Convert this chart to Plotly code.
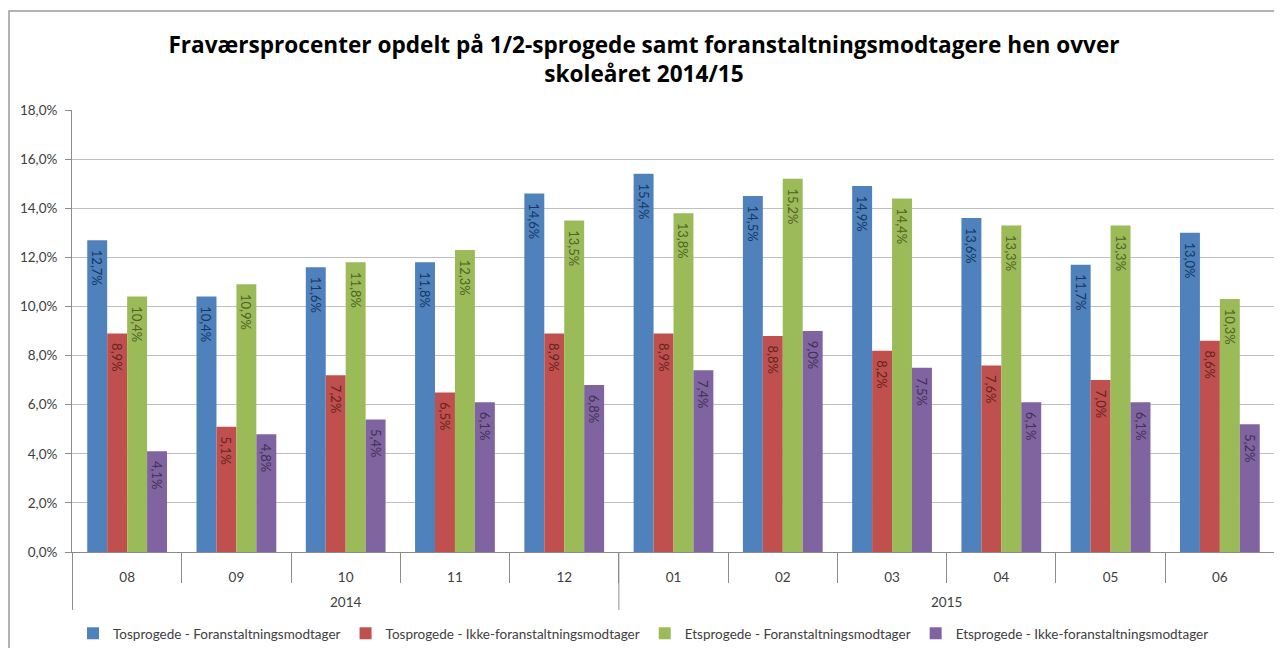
import plotly.graph_objects as go

years = ["2014"] * 5 + ["2015"] * 6
months = ["08", "09", "10", "11", "12", "01", "02", "03", "04", "05", "06"]

series_names = [
    "Tosprogede - Foranstaltningsmodtager",
    "Tosprogede - Ikke-foranstaltningsmodtager",
    "Etsprogede - Foranstaltningsmodtager",
    "Etsprogede - Ikke-foranstaltningsmodtager",
]
tos_foran = [12.7, 10.4, 11.6, 11.8, 14.6, 15.4, 14.5, 14.9, 13.6, 11.7, 13.0]
tos_ikke = [8.9, 5.1, 7.2, 6.5, 8.9, 8.9, 8.8, 8.2, 7.6, 7.0, 8.6]
ets_foran = [10.4, 10.9, 11.8, 12.3, 13.5, 13.8, 15.2, 14.4, 13.3, 13.3, 10.3]
ets_ikke = [4.1, 4.8, 5.4, 6.1, 6.8, 7.4, 9.0, 7.5, 6.1, 6.1, 5.2]

bar_colors = ["#4F81BD", "#C0504D", "#9BBB59", "#8064A2"]
text_colors = ["#17375E", "#632523", "#4F6228", "#3F3151"]

title_text = ("Fraværsprocenter opdelt på 1/2-sprogede samt foranstaltningsmodtagere hen ovver"
              "<br>skoleåret 2014/15")

# page body has an 8px margin; work in screen pixels and convert
OFF = 8
W, H = 1282 - OFF, 648 - OFF
L, R, T, B = 72, 1275, 110, 552   # plot area in screen pixels
pw = R - L
ph = B - T


def py(yscreen):
    return (B - yscreen) / ph


def px(xscreen):
    return (xscreen - L) / pw


fig = go.Figure()
for name, vals, c, tc in zip(series_names, [tos_foran, tos_ikke, ets_foran, ets_ikke],
                             bar_colors, text_colors):
    fig.add_trace(go.Bar(
        x=months,
        y=[v / 100 for v in vals],
        name=name,
        marker=dict(color=c, line=dict(width=0)),
        texttemplate="\u00a0\u00a0%{y:.1%}",
        textposition="inside",
        insidetextanchor="end",
        textangle=90,
        constraintext="none",
        insidetextfont=dict(color=tc, size=13, family="Lato"),
        hoverinfo="skip",
    ))

# outer chart border
fig.add_shape(type="rect", xref="paper", yref="paper",
              x0=px(9), x1=px(1295), y0=py(665), y1=py(11),
              line=dict(color="#9A9A9A", width=1.5), fillcolor="rgba(0,0,0,0)", layer="below")

# year group labels and dividers
groups = []
for i, yv in enumerate(years):
    if not groups or groups[-1][0] != yv:
        groups.append([yv, i, i])
    else:
        groups[-1][2] = i
for yv, i0, i1 in groups:
    fig.add_annotation(x=(i0 + i1) / 2, xref="x", y=py(602), yref="paper",
                       text=yv, showarrow=False, yanchor="middle",
                       font=dict(family="Lato", size=13.5, color="#404040"))
bounds = [groups[0][1] - 0.5] + [g[2] + 0.5 for g in groups]
for bx in bounds:
    fig.add_shape(type="line", xref="x", yref="paper", x0=bx, x1=bx,
                  y0=0, y1=py(610), line=dict(color="#8C8C8C", width=1))

fig.update_layout(
    width=W, height=H,
    margin=dict(l=L - OFF, r=W - (R - OFF), t=T - OFF, b=H - (B - OFF), autoexpand=False),
    paper_bgcolor="white", plot_bgcolor="white",
    separators=",.",
    barmode="group", bargap=0.27, bargroupgap=0,
    font=dict(family="Lato", size=13, color="#404040"),
    title=dict(text=title_text, x=(644 - OFF) / W, xref="container", xanchor="center",
               y=1 - (53 - OFF) / H, yanchor="top",
               font=dict(family="Open Sans", size=22.6, color="#000000", weight="bold")),
    showlegend=True,
    legend=dict(orientation="h", x=px(73), xanchor="left",
                y=py(618), yanchor="top",
                font=dict(family="Lato", size=13.5, color="#404040"),
                traceorder="normal"),
    xaxis=dict(type="category", showline=True, linecolor="#8C8C8C", linewidth=1,
               ticks="outside", tickson="boundaries", ticklen=30, tickcolor="#8C8C8C",
               ticklabelstandoff=13,
               tickfont=dict(size=13.5, color="#404040"), automargin=False,
               showgrid=False),
    yaxis=dict(range=[0, 0.18], dtick=0.02, tickformat=".1%", showline=True,
               linecolor="#8C8C8C", linewidth=1, ticks="outside", ticklen=6,
               tickcolor="#8C8C8C", gridcolor="#BFBFBF", gridwidth=1,
               ticklabelstandoff=5,
               tickfont=dict(size=13.5, color="#404040"), automargin=False,
               zeroline=False),
)

fig.write_html("out.html")
